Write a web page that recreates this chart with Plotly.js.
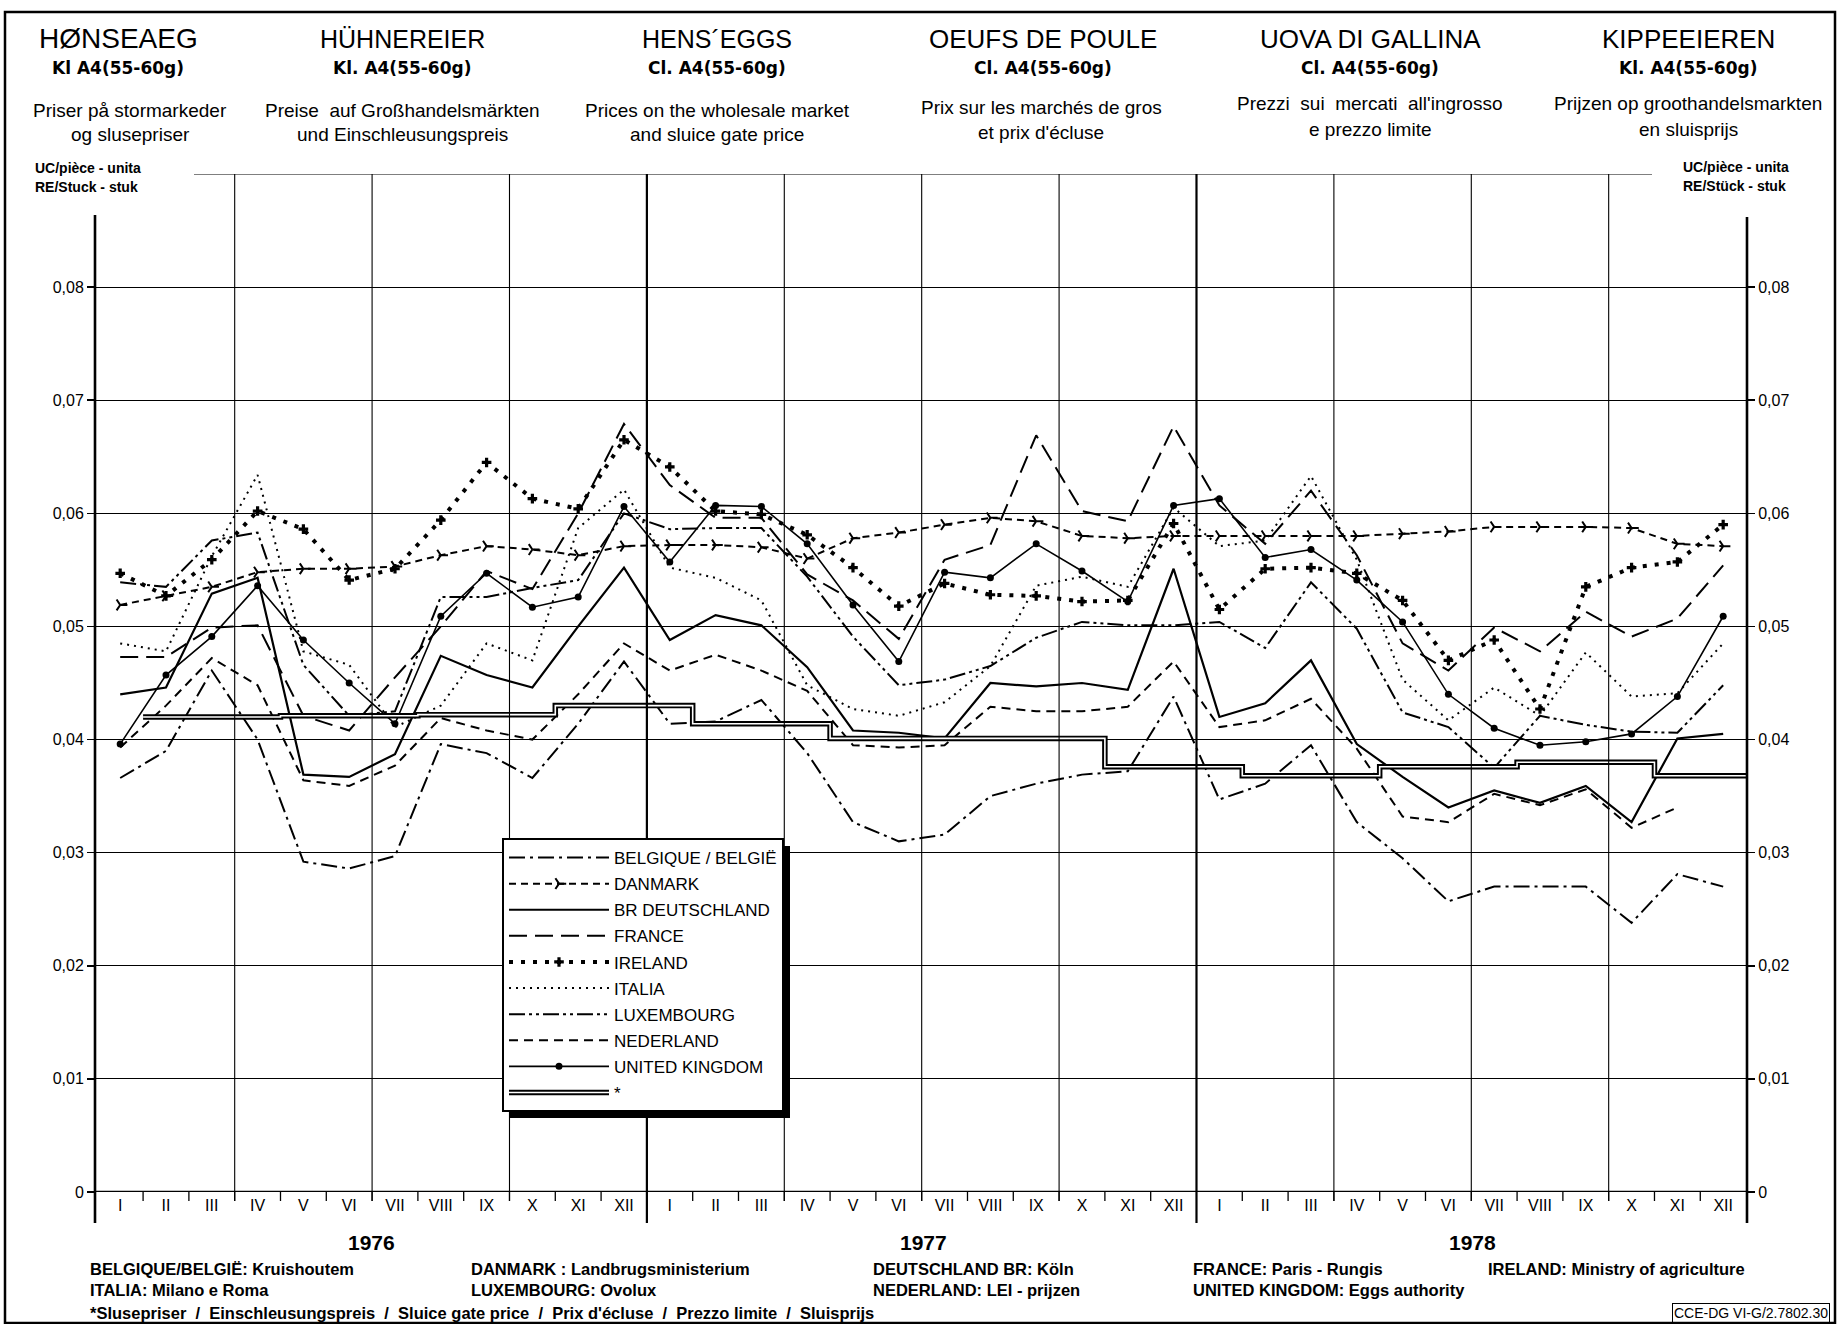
<!DOCTYPE html>
<html><head><meta charset="utf-8">
<script src="https://cdn.plot.ly/plotly-3.0.1.min.js"></script>
<style>html,body{margin:0;padding:0;background:#fff}#chart{width:1840px;height:1324px}</style>
</head><body><div id="chart"></div>
<script>
// ---------- DATA ----------
const years = ['1976', '1977', '1978'];
const monthLabels = ['I','II','III','IV','V','VI','VII','VIII','IX','X','XI','XII'];

const belgique = [0.0366,0.0390,0.0461,0.0400,0.0292,0.0286,0.0297,0.0396,0.0388,0.0366,0.0414,0.0469,
  0.0414,0.0416,0.0435,0.0388,0.0327,0.0310,0.0316,0.0350,0.0361,0.0369,0.0372,0.0438,
  0.0347,0.0361,0.0395,0.0327,0.0295,0.0257,0.0270,0.0270,0.0270,0.0238,0.0281,0.0270];
const danmark = [0.0519,0.0527,0.0535,0.0548,0.0551,0.0551,0.0553,0.0563,0.0571,0.0568,0.0563,0.0571,
  0.0572,0.0572,0.0570,0.0560,0.0578,0.0583,0.0590,0.0596,0.0593,0.0580,0.0578,0.0580,
  0.0580,0.0580,0.0580,0.0580,0.0582,0.0584,0.0588,0.0588,0.0588,0.0587,0.0573,0.0571];
const deutschland = [0.0440,0.0446,0.0529,0.0543,0.0369,0.0367,0.0387,0.0474,0.0457,0.0446,0.0500,0.0552,
  0.0488,0.0510,0.0501,0.0464,0.0408,0.0406,0.0401,0.0450,0.0447,0.0450,0.0444,0.0551,
  0.0420,0.0432,0.0470,0.0396,0.0367,0.0340,0.0355,0.0344,0.0359,0.0327,0.0401,0.0405];
const france = [0.0473,0.0473,0.0499,0.0501,0.0421,0.0408,0.0455,0.0500,0.0549,0.0533,0.0600,0.0679,
  0.0625,0.0596,0.0596,0.0546,0.0523,0.0489,0.0559,0.0572,0.0669,0.0602,0.0593,0.0677,
  0.0607,0.0573,0.0620,0.0563,0.0485,0.0461,0.0499,0.0478,0.0513,0.0491,0.0507,0.0554];
const ireland = [0.0547,0.0527,0.0559,0.0602,0.0586,0.0541,0.0551,0.0594,0.0645,0.0613,0.0604,0.0665,
  0.0641,0.0602,0.0599,0.0581,0.0552,0.0518,0.0538,0.0528,0.0527,0.0522,0.0523,0.0591,
  0.0515,0.0551,0.0552,0.0547,0.0523,0.0470,0.0488,0.0427,0.0535,0.0552,0.0557,0.0590];
const italia = [0.0485,0.0478,0.0562,0.0634,0.0478,0.0466,0.0411,0.0430,0.0485,0.0470,0.0587,0.0621,
  0.0552,0.0543,0.0523,0.0448,0.0427,0.0421,0.0433,0.0465,0.0536,0.0544,0.0535,0.0605,
  0.0571,0.0576,0.0633,0.0559,0.0453,0.0417,0.0446,0.0421,0.0477,0.0438,0.0441,0.0485];
const luxembourg = [0.0539,0.0535,0.0576,0.0583,0.0466,0.0421,0.0425,0.0526,0.0526,0.0534,0.0541,0.0600,
  0.0586,0.0587,0.0587,0.0544,0.0491,0.0448,0.0453,0.0465,0.0490,0.0504,0.0501,0.0501,
  0.0504,0.0481,0.0539,0.0498,0.0424,0.0411,0.0375,0.0421,0.0413,0.0407,0.0406,0.0448];
const nederland = [0.0393,0.0430,0.0472,0.0448,0.0364,0.0359,0.0377,0.0419,0.0408,0.0400,0.0440,0.0485,
  0.0461,0.0475,0.0461,0.0443,0.0395,0.0393,0.0395,0.0429,0.0425,0.0425,0.0429,0.0469,
  0.0411,0.0417,0.0436,0.0392,0.0332,0.0327,0.0352,0.0342,0.0356,0.0322,0.0340,null];
const unitedKingdom = [0.0396,0.0457,0.0491,0.0536,0.0488,0.0450,0.0414,0.0509,0.0547,0.0517,0.0526,0.0606,
  0.0557,0.0607,0.0606,0.0573,0.0519,0.0469,0.0548,0.0543,0.0573,0.0549,0.0522,0.0607,
  0.0613,0.0561,0.0568,0.0541,0.0504,0.0440,0.0410,0.0395,0.0398,0.0405,0.0438,0.0509];

// sluice gate price: quarterly steps (start month index, value)
const sluiceStart = [0.5,3.5,6.5,9.5,12.5,15.5,18.5,21.5,24.5,27.5,30.5,33.5];
const sluiceValue = [0.0420,0.0421,0.0422,0.0430,0.0414,0.0401,0.0401,0.0376,0.0368,0.0376,0.0380,0.0368];

const yTickVals = [0,0.01,0.02,0.03,0.04,0.05,0.06,0.07,0.08];
const yTickText = ['0','0,01','0,02','0,03','0,04','0,05','0,06','0,07','0,08'];

// ---------- GEOMETRY ----------
const W = 1840, H = 1324;
const L = 95, R = 1747, T = 174, B = 1192;
const XMIN = -0.55, XMAX = 35.52, YMAX = 0.09;
const px2x = p => (p - L) / (R - L);
const py2y = p => (B - p) / (B - T);
const FONT = 'Liberation Sans, Arial, sans-serif';

const xIdx = [];
const xText = [];
years.forEach((y, yi) => monthLabels.forEach((m, mi) => { xIdx.push(yi * 12 + mi); xText.push(m); }));

function tr(name, y, line, extra) {
  return Object.assign({ type: 'scatter', mode: 'lines', name: name, legendgroup: name, x: xIdx, y: y,
    line: Object.assign({ color: '#000', width: 2 }, line), connectgaps: false, hoverinfo: 'skip' }, extra || {});
}

const sx = sluiceStart.concat([XMAX]);
const sy = sluiceValue.concat([sluiceValue[sluiceValue.length - 1]]);

const data = [
  tr('BELGIQUE / BELGIË', belgique, { dash: '16px,5px,3px,5px' }),
  tr('DANMARK', danmark, { dash: '7px,5px', width: 2 }, { mode: 'lines+markers', marker: { symbol: 'y-right-open', size: 9, line: { width: 2, color: '#000' }, color: '#000' } }),
  tr('BR DEUTSCHLAND', deutschland, { width: 2.2 }),
  tr('FRANCE', france, { dash: '18px,8px' }),
  tr('IRELAND', ireland, { dash: '4px,8px', width: 4 }, { mode: 'lines+markers', marker: { symbol: 'cross', size: 8, color: '#000' } }),
  tr('ITALIA', italia, { dash: '2px,5px', width: 2 }),
  tr('LUXEMBOURG', luxembourg, { dash: '16px,4px,3px,4px,3px,4px' }),
  tr('NEDERLAND', nederland, { dash: '9px,6px' }),
  tr('UNITED KINGDOM', unitedKingdom, { width: 1.6 }, { mode: 'lines+markers', marker: { symbol: 'circle', size: 7, color: '#000' } }),
  { type: 'scatter', mode: 'lines', name: '*', legendgroup: '*', x: sx, y: sy, line: { color: '#000', width: 5.5, shape: 'hv' }, hoverinfo: 'skip' },
  { type: 'scatter', mode: 'lines', name: '*w', legendgroup: '*', x: sx, y: sy, yaxis: 'y2', showlegend: false, line: { color: '#fff', width: 1.6, shape: 'hv' }, hoverinfo: 'skip' }
];

// ---------- SHAPES ----------
const shapes = [];
shapes.push({ type: 'rect', xref: 'paper', yref: 'paper', x0: px2x(5), x1: px2x(1835), y0: py2y(1323), y1: py2y(12), line: { color: '#000', width: 2.5 } });
shapes.push({ type: 'line', xref: 'paper', yref: 'y', x0: px2x(194), x1: px2x(1652), y0: YMAX, y1: YMAX, line: { color: '#000', width: 1.2 } });
[2.5,5.5,8.5,14.5,17.5,20.5,26.5,29.5,32.5].forEach(v => shapes.push({ type: 'line', xref: 'x', yref: 'paper', x0: v, x1: v, y0: py2y(1201), y1: 1, line: { color: '#000', width: 1.1 } }));
[11.5, 23.5].forEach(v => shapes.push({ type: 'line', xref: 'x', yref: 'paper', x0: v, x1: v, y0: py2y(1223), y1: 1, line: { color: '#000', width: 2.2 } }));
xIdx.slice(0, 35).forEach(i => { const v = i + 0.5; if (v !== 11.5 && v !== 23.5) shapes.push({ type: 'line', xref: 'x', yref: 'paper', x0: v, x1: v, y0: py2y(1201), y1: 0, line: { color: '#000', width: 1.3 } }); });
shapes.push({ type: 'line', xref: 'paper', yref: 'paper', x0: px2x(L), x1: px2x(L), y0: py2y(1223), y1: py2y(215), line: { color: '#000', width: 2.6 } });
shapes.push({ type: 'line', xref: 'paper', yref: 'paper', x0: px2x(R), x1: px2x(R), y0: py2y(1223), y1: py2y(217), line: { color: '#000', width: 2.6 } });
shapes.push({ type: 'line', xref: 'paper', yref: 'y', x0: 0, x1: 1, y0: 0, y1: 0, line: { color: '#000', width: 2.6 } });

// ---------- ANNOTATIONS ----------
const ann = [];
function A(text, px, py, size, opts) {
  ann.push(Object.assign({ text: text, x: px2x(px), y: py2y(py), xref: 'paper', yref: 'paper', showarrow: false,
    xanchor: 'center', yanchor: 'middle', font: { family: FONT, size: size, color: '#000' } }, opts || {}));
}
const cols = [
  [118, 'HØNSEAEG', 'Kl A4(55-60g)', 'Priser på stormarkeder', 'og slusepriser', 110, 28, 130],
  [402, 'HÜHNEREIER', 'Kl. A4(55-60g)', 'Preise  auf Großhandelsmärkten', 'und Einschleusungspreis', 110, 25, 402],
  [717, 'HENS´EGGS', 'Cl. A4(55-60g)', 'Prices on the wholesale market', 'and sluice gate price', 110, 25, 717],
  [1043, 'OEUFS DE POULE', 'Cl. A4(55-60g)', 'Prix sur les marchés de gros', 'et prix d\'écluse', 107, 26, 1041],
  [1370, 'UOVA DI GALLINA', 'Cl. A4(55-60g)', 'Prezzi  sui  mercati  all\'ingrosso', 'e prezzo limite', 104, 26, 1370],
  [1688, 'KIPPEEIEREN', 'Kl. A4(55-60g)', 'Prijzen op groothandelsmarkten', 'en sluisprijs', 104, 26, 1688]
];
cols.forEach(c => {
  A(c[1], c[0], 39, c[6]);
  A('<b>' + c[2] + '</b>', c[0], 68, 18, { font: { family: 'DejaVu Sans, sans-serif', size: 17, color: '#000' } });
  A(c[3], c[7], c[5], 19);
  A(c[4], c[7], c[5] + 25, 19);
});
A('<b>UC/pièce - unita</b>', 33, 168, 14, { xanchor: 'left' });
A('<b>RE/Stuck - stuk</b>', 33, 187, 14, { xanchor: 'left' });
A('<b>UC/pièce - unita</b>', 1681, 167, 14, { xanchor: 'left' });
A('<b>RE/Stück - stuk</b>', 1681, 186, 14, { xanchor: 'left' });
[[371, years[0]], [924, years[1]], [1472, years[2]]].forEach(a => A('<b>' + a[1] + '</b>', a[0], 1242, 21));
const SF = 16.5;
A('<b>BELGIQUE/BELGIË: Kruishoutem</b>', 88, 1269, SF, { xanchor: 'left' });
A('<b>DANMARK : Landbrugsministerium</b>', 469, 1269, SF, { xanchor: 'left' });
A('<b>DEUTSCHLAND BR: Köln</b>', 871, 1269, SF, { xanchor: 'left' });
A('<b>FRANCE: Paris - Rungis</b>', 1191, 1269, SF, { xanchor: 'left' });
A('<b>IRELAND: Ministry of agriculture</b>', 1486, 1269, SF, { xanchor: 'left' });
A('<b>ITALIA: Milano e Roma</b>', 88, 1290, SF, { xanchor: 'left' });
A('<b>LUXEMBOURG: Ovolux</b>', 469, 1290, SF, { xanchor: 'left' });
A('<b>NEDERLAND: LEI - prijzen</b>', 871, 1290, SF, { xanchor: 'left' });
A('<b>UNITED KINGDOM: Eggs authority</b>', 1191, 1290, SF, { xanchor: 'left' });
A('<b>*Slusepriser  /  Einschleusungspreis  /  Sluice gate price  /  Prix d\'écluse  /  Prezzo limite  /  Sluisprijs</b>', 88, 1313, 16.5, { xanchor: 'left' });
A('CCE-DG VI-G/2.7802.30', 1751, 1313, 14, { bordercolor: '#000', borderwidth: 1, borderpad: 1 });

// ---------- LAYOUT ----------
const axisY = {
  range: [0, YMAX], tickvals: yTickVals, ticktext: yTickText, ticks: 'outside', ticklen: 7, tickwidth: 1.5, tickcolor: '#000',
  showline: false, zeroline: false, tickfont: { family: FONT, size: 16, color: '#000' }, fixedrange: true
};
const layout = {
  width: W, height: H, paper_bgcolor: '#fff', plot_bgcolor: '#fff',
  margin: { l: L, r: W - R, t: T, b: H - B, pad: 0 },
  font: { family: FONT, color: '#000' },
  xaxis: { range: [XMIN, XMAX], tickvals: xIdx, ticktext: xText, ticks: '', showgrid: false, zeroline: false, showline: false,
    tickfont: { family: FONT, size: 16, color: '#000' }, ticklabelstandoff: 2, fixedrange: true },
  yaxis: Object.assign({}, axisY, { showgrid: true, gridcolor: '#000', gridwidth: 1 }),
  yaxis2: Object.assign({}, axisY, { overlaying: 'y', side: 'right', showgrid: false }),
  showlegend: true,
  legend: { x: px2x(502), y: py2y(838), xanchor: 'left', yanchor: 'top', bgcolor: '#fff', bordercolor: '#000', borderwidth: 2,
    font: { family: FONT, size: 17, color: '#000' }, itemwidth: 100, tracegroupgap: 1, traceorder: 'grouped' },
  shapes: shapes, annotations: ann
};

function doubleLegendLine(gd) {
  // give the sluice-price legend sample the same white centre stroke as the plotted double line
  try {
    const items = gd.querySelectorAll('.legend .traces');
    const last = items[items.length - 1];
    const p = last && last.querySelector('.js-line');
    if (p && !last.querySelector('.inner-white')) {
      const c = p.cloneNode(true);
      c.setAttribute('class', 'inner-white');
      c.style.stroke = '#fff';
      c.style.strokeWidth = '1.6px';
      p.parentNode.appendChild(c);
    }
  } catch (e) {}
}

Plotly.newPlot('chart', data, layout, { staticPlot: true }).then(gd => {
  const bg = gd.querySelector('.legend .bg');
  if (!bg) return;
  const r = bg.getBoundingClientRect();
  const c = gd.getBoundingClientRect();
  const x0 = r.left - c.left, y0 = r.top - c.top, x1 = r.right - c.left, y1 = r.bottom - c.top;
  const shadow = { type: 'rect', xref: 'paper', yref: 'paper', x0: px2x(x0 + 7), x1: px2x(x1 + 7), y0: py2y(y1 + 7), y1: py2y(y0 + 7),
    fillcolor: '#000', line: { width: 0 }, layer: 'above' };
  return Plotly.relayout(gd, { shapes: shapes.concat([shadow]) });
}).then(() => doubleLegendLine(document.getElementById('chart')));
</script></body></html>
